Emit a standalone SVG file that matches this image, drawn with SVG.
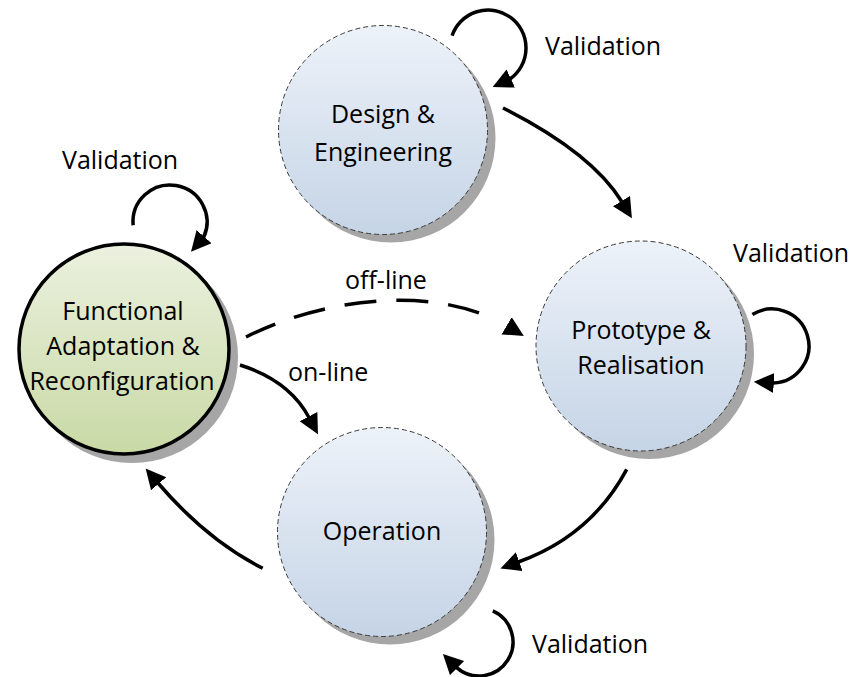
<svg xmlns="http://www.w3.org/2000/svg" width="854" height="677" viewBox="0 0 854 677">
  <defs>
    <linearGradient id="gBlue" x1="0" y1="0" x2="0" y2="1">
      <stop offset="0" stop-color="#edf2f9"/>
      <stop offset="1" stop-color="#c5d4e6"/>
    </linearGradient>
    <linearGradient id="gGreen" x1="0" y1="0" x2="0" y2="1">
      <stop offset="0" stop-color="#ebf1df"/>
      <stop offset="1" stop-color="#c9d9a5"/>
    </linearGradient>
    <marker id="ah" markerUnits="userSpaceOnUse" markerWidth="22" markerHeight="22" viewBox="0 0 22 22" refX="1" refY="10" orient="auto">
      <path d="M0,0 L20,10 L0,20 z" fill="#000"/>
    </marker>
    <style>
      .shadow { fill: #a6a6a6; }
      .node { fill: url(#gBlue); stroke: #3a3a3a; stroke-width: 1; stroke-dasharray: 5 3; }
      .nodeG { fill: url(#gGreen); stroke: #000; stroke-width: 3.5; }
      .txt { font-family: "Open Sans", "Liberation Sans", sans-serif; font-size: 25px; fill: #000; }
      .mid { text-anchor: middle; }
      .conn { fill: none; stroke: #000; stroke-width: 3.5; marker-end: url(#ah); }
      .dash { stroke-dasharray: 32 20 32 20 32 20 32 20 32 40; }
    </style>
  </defs>

  <g id="node-design">
    <circle class="shadow" cx="391" cy="138" r="104.5"/>
    <circle class="node" cx="383" cy="130" r="104.5"/>
    <text class="txt mid" x="383" y="123">Design &amp;</text>
    <text class="txt mid" x="383" y="161">Engineering</text>
  </g>

  <g id="node-prototype">
    <circle class="shadow" cx="649" cy="354" r="105"/>
    <circle class="node" cx="641" cy="346" r="105"/>
    <text class="txt mid" x="641" y="339">Prototype &amp;</text>
    <text class="txt mid" x="641" y="374">Realisation</text>
  </g>

  <g id="node-operation">
    <circle class="shadow" cx="390" cy="540" r="104.5"/>
    <circle class="node" cx="382" cy="532" r="104.5"/>
    <text class="txt mid" x="382" y="540">Operation</text>
  </g>

  <g id="node-functional">
    <circle class="shadow" cx="132" cy="357" r="106"/>
    <circle class="nodeG" cx="124" cy="349" r="105"/>
    <text class="txt mid" x="123" y="320">Functional</text>
    <text class="txt mid" x="123" y="355">Adaptation &amp;</text>
    <text class="txt mid" x="122" y="390">Reconfiguration</text>
  </g>

  <g id="connectors">
    <!-- self loops -->
    <path class="conn" d="M452.07,35.63 A38,38 0 1 1 510.34,78.74 L509.89,78.95"/>
    <path class="conn" d="M133.14,225.23 A37,37 0 1 1 203.8,237.05 L203.47,237.43"/>
    <path class="conn" d="M752.4,314.6 A37,37 0 1 1 773.3,383.0 L772.8,382.97"/>
    <path class="conn" d="M492.83,610.94 A34,34 0 1 1 456.69,667.66 L456.34,667.31"/>
    <!-- transitions -->
    <path class="conn" d="M503,108 Q592,153 622,202"/>
    <path class="conn" d="M626.7,469.3 Q591,536 518.3,562"/>
    <path class="conn" d="M240,365 Q289.2,380.4 309,417.5"/>
    <path class="conn" d="M262.7,568.3 Q206.7,539.9 158,483"/>
    <path class="conn dash" d="M246,337 C321.8,298.7 434.4,283 507.5,326.3"/>
    <!-- labels -->
    <text class="txt" x="545" y="55">Validation</text>
    <text class="txt" x="62" y="169">Validation</text>
    <text class="txt" x="733" y="262">Validation</text>
    <text class="txt" x="532" y="653">Validation</text>
    <text class="txt" x="345" y="289">off-line</text>
    <text class="txt" x="288" y="381">on-line</text>
  </g>
</svg>
